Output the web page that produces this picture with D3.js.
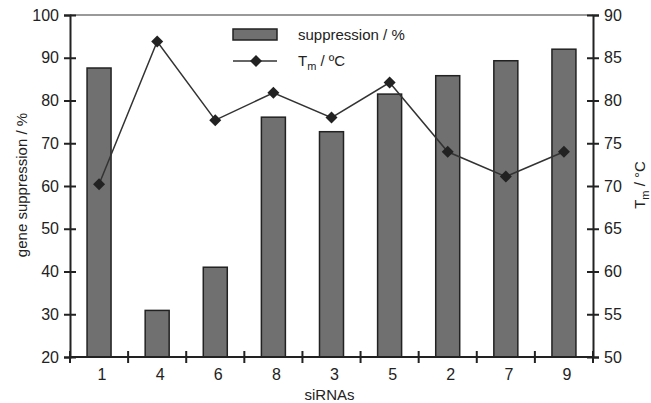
<!DOCTYPE html>
<html lang="en">
<head>
  <meta charset="UTF-8">
  <title>siRNA suppression</title>
  <script src="https://cdnjs.cloudflare.com/ajax/libs/d3/7.8.5/d3.min.js"></script>
  <style>
    body { margin: 0; background: #fff; }
    text { font-family: "Liberation Sans", Arial, sans-serif; fill: #222; }
  </style>
</head>
<body>
  <svg></svg>
  <script>
    const sirnas = ['1', '4', '6', '8', '3', '5', '2', '7', '9'];
    const suppression = [87.6, 30.9, 41, 76.1, 72.7, 81.5, 85.8, 89.3, 92];
    const tm = [70.2, 86.9, 77.7, 80.9, 78, 82.1, 74, 71.1, 74];
    const leftTicks = [20, 30, 40, 50, 60, 70, 80, 90, 100];
    const rightTicks = [50, 55, 60, 65, 70, 75, 80, 85, 90];

    const W = 651, H = 403;
    const m = { top: 15, right: 58, bottom: 46, left: 70 };
    const ink = '#222';

    const svg = d3.select('svg').attr('width', W).attr('height', H);

    const x = d3.scaleBand().domain(sirnas).range([m.left, W - m.right]);
    const yL = d3.scaleLinear().domain([20, 100]).range([H - m.bottom, m.top]);
    const yR = d3.scaleLinear().domain([50, 90]).range([H - m.bottom, m.top]);

    // top frame line
    svg.append('line')
      .attr('x1', m.left).attr('x2', W - m.right)
      .attr('y1', m.top).attr('y2', m.top)
      .style('stroke', '#777').style('stroke-width', 1.5);

    // bars
    const bw = 24;
    svg.selectAll('rect.bar')
      .data(sirnas)
      .enter()
      .append('rect')
      .attr('class', 'bar')
      .attr('x', d => x(d) + x.bandwidth() / 2 - bw / 2)
      .attr('width', bw)
      .attr('y', (d, i) => yL(suppression[i]))
      .attr('height', (d, i) => yL(20) - yL(suppression[i]))
      .style('fill', '#707070')
      .style('stroke', ink)
      .style('stroke-width', 1.5);

    // Tm line
    const line = d3.line()
      .x((d, i) => x(sirnas[i]) + x.bandwidth() / 2)
      .y(d => yR(d));
    svg.append('path')
      .datum(tm)
      .attr('d', line)
      .style('fill', 'none')
      .style('stroke', '#333')
      .style('stroke-width', 1.5);

    // diamond = square turned 45 degrees
    const diamond = d3.symbol().type(d3.symbolSquare).size(72);
    svg.selectAll('path.pt')
      .data(tm)
      .enter()
      .append('path')
      .attr('class', 'pt')
      .attr('d', diamond)
      .attr('transform', (d, i) => `translate(${x(sirnas[i]) + x.bandwidth() / 2},${yR(d)}) rotate(45)`)
      .style('fill', '#222');

    // axes
    const styleAxis = g => {
      g.select('.domain').style('stroke', ink).style('stroke-width', 2);
      g.selectAll('.tick line').style('stroke', ink).style('stroke-width', 2);
      g.selectAll('.tick text').style('font-size', '16px').style('fill', ink);
    };

    const gl = svg.append('g')
      .attr('transform', `translate(${m.left},0)`)
      .call(d3.axisLeft(yL).tickValues(leftTicks).tickSizeOuter(0).tickSize(6).tickPadding(5));
    gl.selectAll('.tick line').attr('x1', 6).attr('x2', -6);
    styleAxis(gl);

    const gr = svg.append('g')
      .attr('transform', `translate(${W - m.right},0)`)
      .call(d3.axisRight(yR).tickValues(rightTicks).tickSizeOuter(0).tickSize(6).tickPadding(5));
    gr.selectAll('.tick line').attr('x1', -6).attr('x2', 6);
    styleAxis(gr);

    // x axis: ticks at band edges, labels at band centres
    const gb = svg.append('g')
      .attr('transform', `translate(0,${H - m.bottom})`);
    gb.append('line')
      .attr('x1', m.left).attr('x2', W - m.right)
      .style('stroke', ink).style('stroke-width', 2);
    const edges = sirnas.map(d => x(d)).concat([W - m.right]);
    gb.selectAll('line.tk')
      .data(edges)
      .enter()
      .append('line')
      .attr('class', 'tk')
      .attr('x1', d => d).attr('x2', d => d)
      .attr('y1', -6).attr('y2', 6)
      .style('stroke', ink).style('stroke-width', 2);
    gb.selectAll('text')
      .data(sirnas)
      .enter()
      .append('text')
      .attr('x', d => x(d) + x.bandwidth() / 2 + 3)
      .attr('y', 23)
      .attr('text-anchor', 'middle')
      .style('font-size', '16px')
      .text(d => d);

    // axis titles
    svg.append('text')
      .attr('transform', `translate(${(m.left + W - m.right) / 2 - 2},${H - 3})`)
      .attr('text-anchor', 'middle')
      .style('font-size', '15px')
      .text('siRNAs');

    svg.append('text')
      .attr('transform', 'translate(27,185) rotate(-90)')
      .attr('text-anchor', 'middle')
      .style('font-size', '15px')
      .text('gene suppression / %');

    const rt = svg.append('text')
      .attr('transform', 'translate(645,185) rotate(-90)')
      .attr('text-anchor', 'middle')
      .style('font-size', '15px');
    rt.append('tspan').text('T');
    rt.append('tspan').attr('dy', 4).style('font-size', '11px').text('m');
    rt.append('tspan').attr('dy', -4).text(' / °C');

    // legend
    const lg = svg.append('g');
    lg.append('rect')
      .attr('x', 233).attr('y', 29).attr('width', 44).attr('height', 11)
      .style('fill', '#707070').style('stroke', ink).style('stroke-width', 1.5);
    lg.append('text')
      .attr('x', 298).attr('y', 40)
      .style('font-size', '15px')
      .text('suppression / %');
    lg.append('line')
      .attr('x1', 233).attr('x2', 277).attr('y1', 61).attr('y2', 61)
      .style('stroke', '#333').style('stroke-width', 1.5);
    lg.append('path')
      .attr('d', diamond)
      .attr('transform', 'translate(256,61) rotate(45)')
      .style('fill', '#222');
    const lt = lg.append('text')
      .attr('x', 298).attr('y', 66)
      .style('font-size', '15px');
    lt.append('tspan').text('T');
    lt.append('tspan').attr('dy', 4).style('font-size', '11px').text('m');
    lt.append('tspan').attr('dy', -4).text(' / ºC');
  </script>
</body>
</html>
